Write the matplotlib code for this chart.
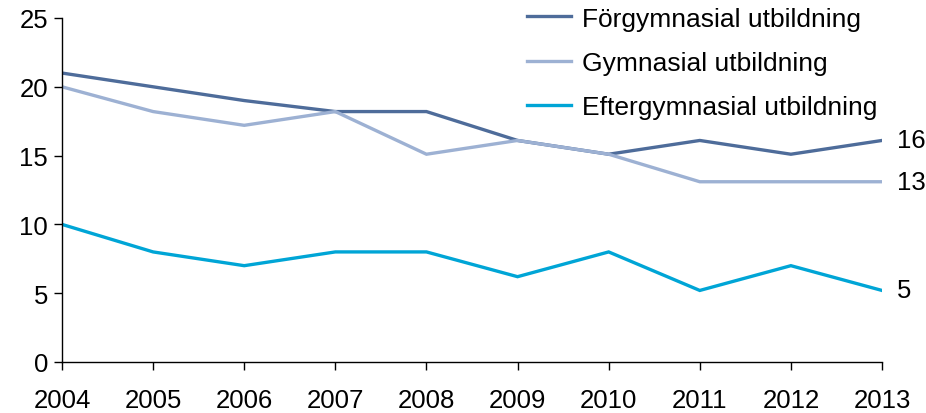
import matplotlib
matplotlib.use('Agg')
import matplotlib.pyplot as plt

# Données
annees = [2004, 2005, 2006, 2007, 2008, 2009, 2010, 2011, 2012, 2013]
forgymnasial = [21.0, 20.0, 19.0, 18.2, 18.2, 16.1, 15.1, 16.1, 15.1, 16.1]
gymnasial = [20.0, 18.2, 17.2, 18.2, 15.1, 16.1, 15.1, 13.1, 13.1, 13.1]
eftergymnasial = [10.0, 8.0, 7.0, 8.0, 8.0, 6.2, 8.0, 5.2, 7.0, 5.2]
etiquettes_fin = ["16", "13", "5"]

series = [
    ("Förgymnasial utbildning", forgymnasial, "#4e6c9a"),
    ("Gymnasial utbildning", gymnasial, "#9db1d3"),
    ("Eftergymnasial utbildning", eftergymnasial, "#00a5d6"),
]

plt.rcParams['font.family'] = ['Liberation Sans', 'DejaVu Sans']
taille = 18.5

fig = plt.figure(figsize=(9.26, 4.14), dpi=100)
ax = fig.add_axes([62 / 926, 1 - 363 / 414, (882 - 62) / 926, (363 - 19) / 414])

for (nom, valeurs, couleur), txt in zip(series, etiquettes_fin):
    ax.plot(annees, valeurs, color=couleur, lw=2.4, label=nom, solid_joinstyle='miter')
    ax.annotate(txt, (annees[-1], valeurs[-1]), xytext=(11, 0), textcoords='offset points',
                va='center', ha='left', fontsize=taille, annotation_clip=False)

ax.set_xlim(2004, 2013)
ax.set_ylim(0, 25)
ax.set_xticks(annees)
ax.set_yticks([0, 5, 10, 15, 20, 25])
ax.tick_params(axis='both', labelsize=taille, length=6, width=1, color='black', direction='out')
ax.tick_params(axis='x', pad=13)
ax.tick_params(axis='y', pad=4)
for cote in ['top', 'right']:
    ax.spines[cote].set_visible(False)
for cote in ['left', 'bottom']:
    ax.spines[cote].set_linewidth(1)

ax.legend(loc='upper left', bbox_to_anchor=(516 / 926, 1 + 3 / 414), bbox_transform=fig.transFigure,
          frameon=False, fontsize=19, handlelength=1.7, handletextpad=0.4,
          labelspacing=0.77, borderaxespad=0)

fig.savefig("out.png", dpi=100)
plt.close()
